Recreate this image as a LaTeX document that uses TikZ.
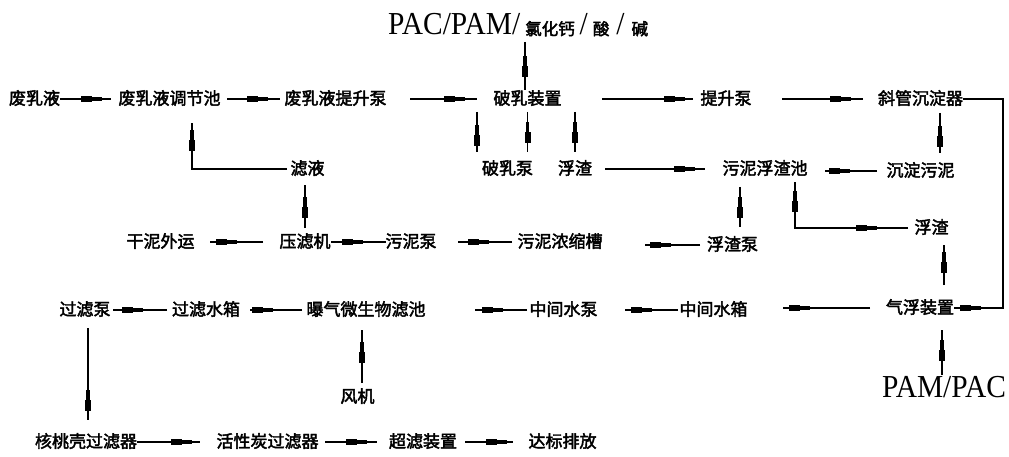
\documentclass[tikz,border=0pt]{standalone}
\usepackage{fontspec}
\usepackage{graphicx}
\newfontfamily\cjk[FakeBold=2.5]{Noto Sans CJK SC}
\newfontfamily\latfont{Liberation Serif}
\newcommand\latx[1]{\scalebox{0.92}[1]{\latfont\fontsize{32pt}{32pt}\selectfont #1}}
\newcommand\cjs{\cjk\fontsize{16.5pt}{16.5pt}\selectfont}
\tikzset{
  lbl/.style={font=\cjk\fontsize{17pt}{17pt}\selectfont, inner sep=0pt, outer sep=0pt, text height=14pt, text depth=3pt},
  flow/.style={line width=1.1pt},
  hm/.pic={\fill[shorten <=0pt, shorten >=0pt] (-11pt,-3pt) rectangle (0pt,3pt);
           \fill[shorten <=0pt, shorten >=0pt] (0pt,-1.9pt) rectangle (10pt,1.9pt);},
  vm/.pic={\fill[shorten <=0pt, shorten >=0pt] (-3pt,-11pt) rectangle (3pt,0pt);
           \fill[shorten <=0pt, shorten >=0pt] (-1.9pt,0pt) rectangle (1.9pt,10pt);}
}
\begin{document}
\begin{tikzpicture}[x=1pt,y=-1pt]
\useasboundingbox[fill=white] (0,0) rectangle (1009,457);
% top label
\node[anchor=base west, inner sep=0pt] (n0) at (388,35) {\latx{PAC/PAM/}\kern5pt{\cjs 氯化钙}\kern5pt\latx{/}\kern5pt{\cjs 酸}\kern7pt\latx{/}\kern7pt{\cjs 碱}};
% row 1
\node[lbl] (n1) at (34.5,99) {废乳液};
\node[lbl] (n2) at (169.5,99) {废乳液调节池};
\node[lbl] (n3) at (335.5,99) {废乳液提升泵};
\node[lbl] (n4) at (527.5,99) {破乳装置};
\node[lbl] (n5) at (726,99) {提升泵};
\node[lbl] (n6) at (920.5,99) {斜管沉淀器};
% row 2
\node[lbl] (n7) at (307.5,169) {滤液};
\node[lbl] (n8) at (507.5,169) {破乳泵};
\node[lbl] (n9) at (575,169) {浮渣};
\node[lbl] (n10) at (765,169) {污泥浮渣池};
\node[lbl] (n11) at (920.5,171) {沉淀污泥};
% row 3
\node[lbl] (n12) at (160.5,242) {干泥外运};
\node[lbl] (n13) at (305,242) {压滤机};
\node[lbl] (n14) at (411,242) {污泥泵};
\node[lbl] (n15) at (560,242) {污泥浓缩槽};
\node[lbl] (n16) at (732.5,245) {浮渣泵};
\node[lbl] (n17) at (931.5,228) {浮渣};
% row 4
\node[lbl] (n18) at (85,310) {过滤泵};
\node[lbl] (n19) at (206,310) {过滤水箱};
\node[lbl] (n20) at (366,310) {曝气微生物滤池};
\node[lbl] (n21) at (563.5,310) {中间水泵};
\node[lbl] (n22) at (713.5,310) {中间水箱};
\node[lbl] (n23) at (920,308) {气浮装置};
\node[anchor=base, inner sep=0pt] (n29) at (944,397) {\latx{PAM/PAC}};
% row 5
\node[lbl] (n24) at (357.5,397) {风机};
\node[lbl] (n25) at (86,442) {核桃壳过滤器};
\node[lbl] (n26) at (267.5,442) {活性炭过滤器};
\node[lbl] (n27) at (423,442) {超滤装置};
\node[lbl] (n28) at (562.5,442) {达标排放};
% coordinates
\coordinate (t1) at (525,42);
\coordinate (r1) at (1003,99);
\coordinate (r2) at (1003,308);
\coordinate (l1) at (192,169);
\coordinate (p1) at (477,112);
\coordinate (p2) at (477,152);
\coordinate (k1) at (795,228);
\coordinate (q1) at (942,375);
% connectors row 1
\draw[flow, shorten >=8pt] (n1.east) -- (n2.west) pic[pos=0.54]{hm};
\draw[flow, shorten <=6.5pt, shorten >=4.5pt] (n2.east) -- (n3.west) pic[pos=0.58]{hm};
\draw[flow, shorten <=23.5pt, shorten >=16.5pt] (n3.east) -- (n4.west) pic[pos=0.64]{hm};
\draw[flow, shorten <=40.5pt, shorten >=7.5pt] (n4.east) -- (n5.west) pic[pos=0.82]{hm};
\draw[flow, shorten <=30.5pt, shorten >=15pt] (n5.east) -- (n6.west) pic[pos=0.71]{hm};
\draw[flow] (n6.east) -- (r1) -- (r2) -- (n23.east) pic[pos=0.65]{hm};
\draw[flow] (t1) -- (t1 |- n4.north) pic[pos=0.49]{vm};
% row 2
\draw[flow, shorten <=3.5pt, shorten >=15.5pt] (n7.west) -- (l1) -- (l1 |- n2.south) pic[pos=0.47]{vm};
\draw[flow, shorten <=5.5pt, shorten >=7.5pt] (n13.north) -- (n13.north |- n7.south) pic[pos=0.47]{vm};
\draw[flow] (p1) -- (p2) pic[pos=0.57]{vm};
\draw[flow, shorten <=4.5pt, shorten >=8pt] (n4.south) -- (n4.south |- n8.north) pic[pos=0.46]{vm};
\draw[flow, shorten <=4.5pt, shorten >=8pt] (n9.north |- n4.south) -- (n9.north) pic[pos=0.46]{vm};
\draw[flow, shorten <=13pt, shorten >=17.5pt] (n9.east) -- (n10.west) pic[pos=0.71]{hm};
\draw[flow, shorten <=9.5pt, shorten >=17.5pt] (n11.west) -- (n11.west -| n10.east) pic[pos=0.59]{hm};
\draw[flow, shorten <=5.5pt, shorten >=9.5pt] ([xshift=19.5pt]n6.south) -- ([xshift=19.5pt]n11.north) pic[pos=0.51]{vm};
% row 3
\draw[flow, shorten <=16.5pt, shorten >=15.5pt] (n13.west) -- (n12.east) pic[pos=0.62]{hm};
\draw[flow] (n14.west) -- (n13.east) pic[pos=0.6]{hm};
\draw[flow, shorten <=5.5pt, shorten >=21.5pt] (n15.west) -- (n14.east) pic[pos=0.48]{hm};
\draw[flow, shorten <=7pt, shorten >=42.5pt] (n16.west) -- (n16.west -| n15.east) pic[pos=0.44]{hm};
\draw[flow, shorten <=9.5pt, shorten >=9.5pt] ([xshift=-25pt]n10.south) -- ([xshift=7.5pt]n16.north) pic[pos=0.5]{vm};
\draw[flow, shorten <=6.5pt, shorten >=4.5pt] (n17.west) -- (k1) pic[pos=0.4]{hm} -- (k1 |- n10.south) pic[pos=0.53]{vm};
\draw[flow, shorten <=14.5pt, shorten >=8.5pt] ([xshift=24pt]n23.north) -- ([xshift=12.5pt]n17.south) pic[pos=0.6]{vm};
% row 4
\draw[flow, shorten <=5pt, shorten >=2.5pt] (n19.west) -- (n18.east) pic[pos=0.63]{hm};
\draw[flow, shorten <=4.5pt, shorten >=10pt] (n20.west) -- (n19.east) pic[pos=0.65]{hm};
\draw[flow, shorten <=2.5pt, shorten >=49.5pt] (n21.west) -- (n20.east) pic[pos=0.35]{hm};
\draw[flow, shorten <=1.5pt, shorten >=27.5pt] (n22.west) -- (n21.east) pic[pos=0.46]{hm};
\draw[flow, shorten <=16pt, shorten >=35.5pt] (n23.west) -- (n23.west -| n22.east) pic[pos=0.62]{hm};
\draw[flow, shorten >=13.5pt] (q1) -- (q1 |- n23.south) pic[pos=0.43]{vm};
\draw[flow, shorten <=5.5pt, shorten >=11.5pt] ([xshift=4.5pt]n24.north) -- ([xshift=-4pt]n20.south) pic[pos=0.52]{vm};
\draw[flow, shorten <=9.5pt, shorten >=13.5pt] ([xshift=3pt]n18.south) -- ([xshift=2pt]n25.north) pic[pos=0.71]{vm};
% row 5
\draw[flow, shorten >=16.5pt] (n25.east) -- (n26.west) pic[pos=0.57]{hm};
\draw[flow, shorten <=6.5pt, shorten >=12pt] (n26.east) -- (n27.west) pic[pos=0.55]{hm};
\draw[flow, shorten <=8pt, shorten >=15.5pt] (n27.east) -- (n28.west) pic[pos=0.56]{hm};
\end{tikzpicture}
\end{document}
